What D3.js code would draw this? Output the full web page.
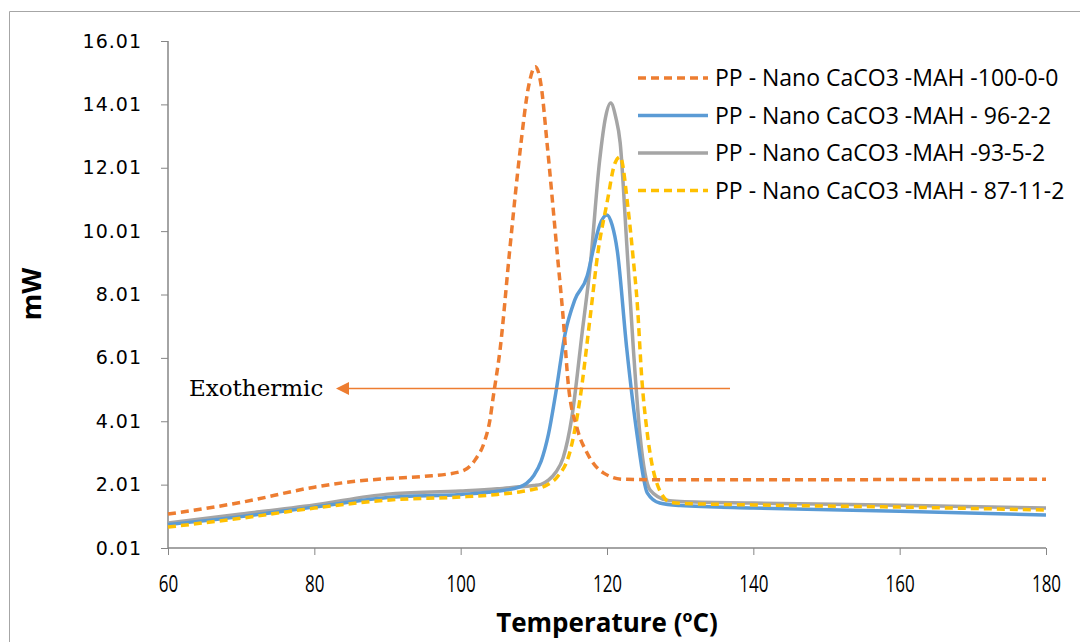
<!DOCTYPE html>
<html lang="en">
<head>
<meta charset="UTF-8">
<script src="https://d3js.org/d3.v7.min.js"></script>
<style>
  html, body { margin: 0; padding: 0; background: #fff; }
</style>
</head>
<body>
<div id="chart"></div>
<script>
// ---- data ----
var xTicks = [60, 80, 100, 120, 140, 160, 180];
var yTicks = [0.01, 2.01, 4.01, 6.01, 8.01, 10.01, 12.01, 14.01, 16.01];

var names = [
  "PP - Nano CaCO3 -MAH -100-0-0",
  "PP - Nano CaCO3 -MAH - 96-2-2",
  "PP - Nano CaCO3 -MAH -93-5-2",
  "PP - Nano CaCO3 -MAH - 87-11-2"
];
var colors = ["#ED7D31", "#5B9BD5", "#A5A5A5", "#FFC000"];
var dashed = [true, false, false, true];

var t100 = [60, 70, 80, 85, 90, 95, 100, 102, 103.3, 104, 104.4, 105.4, 106.7, 108.1, 109.3, 110.2, 111, 111.8, 113.2, 114, 114.7, 115.9, 117.3, 119.5, 122.2, 130, 140, 160, 180];
var v100 = [1.08, 1.45, 1.93, 2.1, 2.2, 2.27, 2.42, 2.8, 3.4, 4.05, 4.7, 6.3, 9.4, 12.5, 14.6, 15.2, 14.6, 12.8, 9.3, 7.3, 5.2, 3.8, 3.0, 2.38, 2.18, 2.16, 2.16, 2.17, 2.18];

var t96 = [60, 70, 80, 90, 100, 105, 108, 109, 110, 111, 112, 113, 114.3, 115.6, 117.3, 118.1, 119, 120, 120.7, 121.4, 122.7, 124.1, 125.5, 127.2, 130, 140, 160, 180];
var v96 = [0.75, 1.0, 1.3, 1.6, 1.7, 1.8, 1.93, 2.05, 2.3, 2.75, 3.6, 4.9, 6.8, 7.84, 8.6, 9.4, 10.2, 10.52, 10.2, 9.4, 6.3, 3.6, 1.75, 1.43, 1.35, 1.27, 1.17, 1.05];

var t93 = [60, 70, 80, 90, 100, 105, 108, 110, 111, 112, 113, 114, 115.2, 116.6, 117.7, 119, 119.8, 120.5, 121.2, 121.8, 122.7, 123.6, 124.5, 125.9, 128.2, 130, 140, 160, 180];
var v93 = [0.8, 1.08, 1.37, 1.71, 1.81, 1.88, 1.94, 1.98, 2.02, 2.15, 2.4, 2.85, 4.14, 6.8, 8.9, 12.25, 13.6, 14.05, 13.6, 12.8, 9.6, 6.3, 3.6, 1.84, 1.52, 1.48, 1.43, 1.36, 1.27];

var t87 = [60, 70, 80, 90, 100, 105, 108, 109.5, 111.8, 113.2, 115, 116.3, 117.7, 118.8, 120, 121.1, 121.8, 122.9, 123.6, 124.1, 124.8, 125.5, 126.8, 128.6, 130, 140, 160, 180];
var v87 = [0.67, 0.95, 1.27, 1.52, 1.62, 1.7, 1.78, 1.84, 2.0, 2.25, 3.1, 4.7, 7.3, 9.4, 10.9, 12.16, 12.35, 10.68, 9.1, 7.84, 5.22, 3.64, 2.06, 1.46, 1.42, 1.37, 1.3, 1.21];

var temps = [t100, t96, t93, t87];
var vals = [v100, v96, v93, v87];

// ---- layout ----
var W = 1080, H = 642;
var margin = {left: 168, right: 1046, top: 41, bottom: 548};
var sans = "'Open Sans', sans-serif";

var svg = d3.select('#chart').append('svg')
    .attr('width', W)
    .attr('height', H);

// outer frame (chart area border, runs off the right/bottom)
svg.append('path')
    .attr('d', 'M9.5,' + H + ' V11.5 H' + W)
    .attr('fill', 'none')
    .attr('stroke', '#a6a6a6')
    .attr('stroke-width', 1);

var x = d3.scaleLinear().domain([60, 180]).range([margin.left, margin.right]);
var y = d3.scaleLinear().domain([0.01, 16.01]).range([margin.bottom, margin.top]);

var xAxis = svg.append('g')
    .attr('transform', 'translate(0,' + margin.bottom + ')')
    .call(d3.axisBottom(x).tickValues(xTicks).tickSize(7));
var yAxis = svg.append('g')
    .attr('transform', 'translate(' + margin.left + ',0)')
    .call(d3.axisLeft(y).tickValues(yTicks).tickFormat(d3.format('.2f')).tickSize(7).tickPadding(19));

[xAxis, yAxis].forEach(function(a) {
  a.select('.domain').attr('stroke', '#868686').attr('stroke-width', 1.5);
  a.selectAll('.tick line').attr('stroke', '#868686').attr('stroke-width', 1);
});
xAxis.select('.domain').attr('d', 'M' + margin.left + ',0H' + margin.right);
yAxis.select('.domain').attr('d', 'M0,' + margin.top + 'V' + margin.bottom);

// x labels are tall and narrow in the original
xAxis.selectAll('.tick text')
    .attr('y', 44).attr('dy', 0)
    .attr('transform', 'scale(0.74,1)')
    .style('font-family', sans).style('font-size', '23px').style('fill', '#000');
yAxis.selectAll('.tick text')
    .style('font-family', "'DejaVu Sans', sans-serif").style('font-size', '19px')
    .style('letter-spacing', '1px').style('fill', '#000');

// curves
var line = d3.line()
    .x(function(d) { return x(d[0]); })
    .y(function(d) { return y(d[1]); })
    .curve(d3.curveMonotoneX);

// draw order: grey, blue, yellow, orange on top
[2, 1, 3, 0].forEach(function(i) {
  var pts = temps[i].map(function(t, k) { return [t, vals[i][k]]; });
  svg.append('path')
      .datum(pts)
      .attr('d', line)
      .attr('fill', 'none')
      .attr('stroke', colors[i])
      .attr('stroke-width', 3.5)
      .attr('stroke-dasharray', dashed[i] ? '8,5' : null)
      .attr('stroke-linejoin', 'round');
});

// exothermic arrow
svg.append('defs').append('marker')
    .attr('id', 'arr')
    .attr('viewBox', '0 0 10 10')
    .attr('refX', 0).attr('refY', 5)
    .attr('markerWidth', 16).attr('markerHeight', 13)
    .attr('markerUnits', 'userSpaceOnUse')
    .attr('orient', 'auto')
    .append('path')
    .attr('d', 'M0,0 L10,5 L0,10 Z')
    .attr('fill', '#ED7D31');

svg.append('line')
    .attr('x1', 730).attr('y1', 388.5)
    .attr('x2', 349).attr('y2', 388.5)
    .attr('stroke', '#ED7D31')
    .attr('stroke-width', 1.5)
    .attr('marker-end', 'url(#arr)');

svg.append('text')
    .attr('x', 189).attr('y', 396)
    .style('font-family', "'DejaVu Serif', serif")
    .style('font-size', '23px')
    .text('Exothermic');

// legend
var legend = svg.append('g');
names.forEach(function(n, i) {
  var ly = 78 + i * 37.5;
  legend.append('line')
      .attr('x1', 638).attr('x2', 708)
      .attr('y1', ly).attr('y2', ly)
      .attr('stroke', colors[i])
      .attr('stroke-width', 3.5)
      .attr('stroke-dasharray', dashed[i] ? '8,5' : null);
  legend.append('text')
      .attr('x', 715).attr('y', ly + 8)
      .style('font-family', sans)
      .style('font-size', '23px')
      .text(n);
});

// axis titles
svg.append('text')
    .attr('transform', 'translate(41,294) rotate(-90)')
    .attr('text-anchor', 'middle')
    .style('font-family', sans)
    .style('font-size', '27px')
    .style('font-weight', 'bold')
    .text('mW');

var xt = svg.append('text')
    .attr('x', 607).attr('y', 632)
    .attr('text-anchor', 'middle')
    .style('font-family', sans)
    .style('font-size', '26px')
    .style('font-weight', 'bold');
xt.append('tspan').text('Temperature (');
xt.append('tspan').style('font-size', '16px').attr('dy', -10).text('o');
xt.append('tspan').attr('dy', 10).text('C)');
</script>
</body>
</html>
